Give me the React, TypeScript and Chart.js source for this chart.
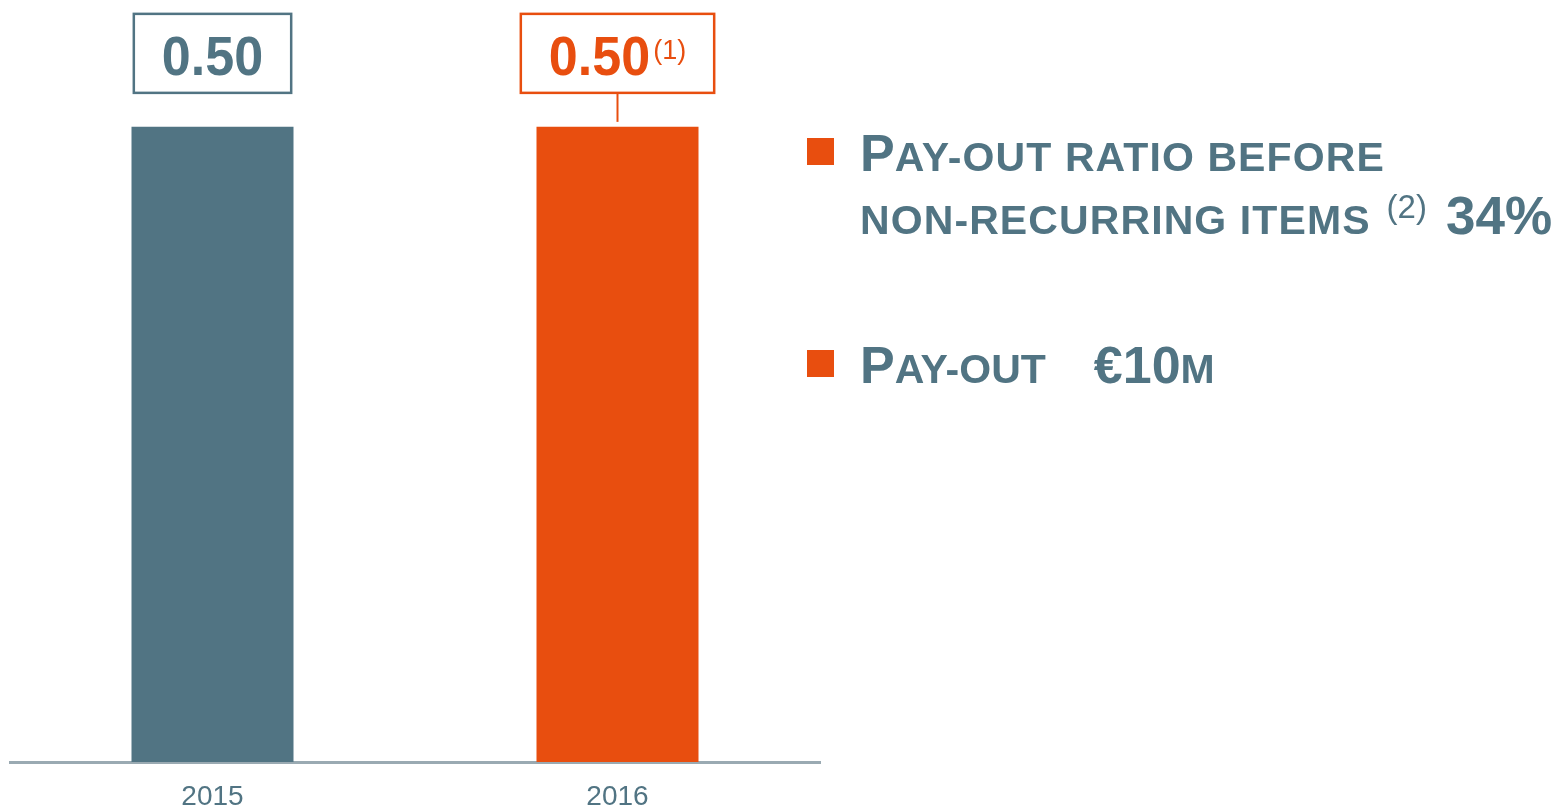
import { useEffect, useRef } from 'react';
import { Chart, registerables } from 'chart.js';

Chart.register(...registerables);

const categories = ['2015', '2016'];
const dividendValues = [0.5, 0.5];
const valueLabels = ['0.50', '0.50'];
const valueFootnotes = ['', '(1)'];
const withConnector = [false, true];
const barColors = ['#517483', '#E84E0F'];

const legendLine1 = ['P', 'AY-OUT RATIO BEFORE'];
const legendLine2 = ['NON-RECURRING ITEMS', '(2)', '34%'];
const legendLine3 = ['P', 'AY-OUT', '€10', 'M'];

const FONT = "'Liberation Sans', Arial, sans-serif";
const TEXT = '#517483';
const ORANGE = '#E84E0F';
const VALUE_SX = 0.93;

type Run = { t: string; size: number; bold: boolean; dy?: number; gap?: number; ls?: number };

function drawRuns(ctx: CanvasRenderingContext2D, x: number, baseline: number, runs: Run[]) {
  let cx = x;
  for (const r of runs) {
    cx += r.gap || 0;
    ctx.font = `${r.bold ? 'bold ' : ''}${r.size}px ${FONT}`;
    (ctx as any).letterSpacing = `${r.ls || 0}px`;
    ctx.fillText(r.t, cx, baseline + (r.dy || 0));
    cx += ctx.measureText(r.t).width;
  }
  (ctx as any).letterSpacing = '0px';
  return cx;
}

const valueBoxes = {
  id: 'valueBoxes',
  afterDatasetsDraw(chart: any) {
    const ctx: CanvasRenderingContext2D = chart.ctx;
    const meta = chart.getDatasetMeta(0);
    meta.data.forEach((bar: any, i: number) => {
      const color = barColors[i];
      ctx.save();
      ctx.font = `bold 56px ${FONT}`;
      const mw = ctx.measureText(valueLabels[i]).width * VALUE_SX;
      ctx.font = `27px ${FONT}`;
      const note = valueFootnotes[i];
      const nw = note ? ctx.measureText(note).width + 3 : 0;
      const boxW = mw + nw + 56;
      const boxH = 79;
      const top = bar.y - 113;
      const left = bar.x - boxW / 2;
      ctx.strokeStyle = color;
      ctx.lineWidth = 2.5;
      ctx.strokeRect(left, top, boxW, boxH);
      if (withConnector[i]) {
        ctx.lineWidth = 2;
        ctx.beginPath();
        ctx.moveTo(bar.x, top + boxH);
        ctx.lineTo(bar.x, bar.y - 5);
        ctx.stroke();
      }
      ctx.fillStyle = color;
      ctx.textBaseline = 'alphabetic';
      ctx.textAlign = 'left';
      ctx.save();
      ctx.translate(left + 28, top + 61);
      ctx.scale(VALUE_SX, 1);
      ctx.font = `bold 56px ${FONT}`;
      ctx.fillText(valueLabels[i], 0, 0);
      ctx.restore();
      if (note) {
        ctx.font = `27px ${FONT}`;
        ctx.fillText(note, left + 28 + mw + 3, top + 45);
      }
      ctx.restore();
    });
  },
};

const sideLegend = {
  id: 'sideLegend',
  afterDraw(chart: any) {
    const ctx: CanvasRenderingContext2D = chart.ctx;
    ctx.save();
    ctx.fillStyle = ORANGE;
    ctx.fillRect(807, 138, 27, 27);
    ctx.fillRect(807, 350, 27, 27);
    ctx.fillStyle = TEXT;
    ctx.textBaseline = 'alphabetic';
    ctx.textAlign = 'left';
    drawRuns(ctx, 860, 171, [
      { t: legendLine1[0], size: 52, bold: true },
      { t: legendLine1[1], size: 41, bold: true, ls: 1.1 },
    ]);
    drawRuns(ctx, 860, 234, [
      { t: legendLine2[0], size: 41, bold: true, ls: 1.1 },
      { t: legendLine2[1], size: 33, bold: false, dy: -16, gap: 16 },
      { t: legendLine2[2], size: 53, bold: true, gap: 19 },
    ]);
    drawRuns(ctx, 860, 383, [
      { t: legendLine3[0], size: 52, bold: true },
      { t: legendLine3[1], size: 41, bold: true },
      { t: legendLine3[2], size: 52, bold: true, gap: 48 },
      { t: legendLine3[3], size: 41, bold: true },
    ]);
    ctx.restore();
  },
};

export default function App() {
  const ref = useRef<HTMLCanvasElement>(null);
  useEffect(() => {
    document.body.style.margin = '0';
    document.body.style.overflow = 'hidden';
    const chart = new Chart(ref.current!, {
      type: 'bar',
      data: {
        labels: categories,
        datasets: [
          {
            data: dividendValues,
            backgroundColor: barColors,
            borderWidth: 0,
            barPercentage: 0.4,
            categoryPercentage: 1,
          },
        ],
      },
      options: {
        animation: false,
        responsive: false,
        layout: { padding: { left: 10, right: 737, top: 10, bottom: 2 } },
        plugins: { legend: { display: false }, tooltip: { enabled: false } },
        scales: {
          x: {
            grid: { display: false, drawTicks: false },
            border: { display: true, color: '#9AAAB2', width: 3 },
            ticks: { color: TEXT, padding: 21, font: { family: FONT, size: 28, lineHeight: 1 } },
            afterFit: (scale: any) => {
              scale.height = 43;
            },
          },
          y: { display: false, min: 0, max: 0.592 },
        },
      },
      plugins: [valueBoxes, sideLegend],
    });
    return () => chart.destroy();
  }, []);
  return (
    <div style={{ position: 'absolute', left: 0, top: 0, width: 1557, height: 807 }}>
      <canvas ref={ref} width={1557} height={807} style={{ display: 'block' }} />
    </div>
  );
}
